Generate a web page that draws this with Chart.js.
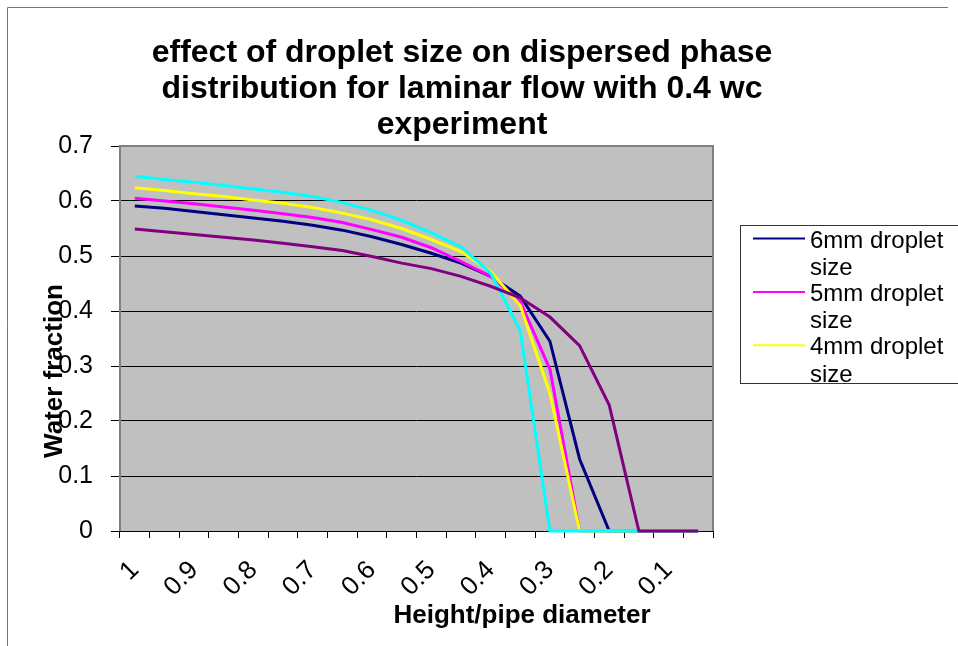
<!DOCTYPE html>
<html>
<head>
<meta charset="utf-8">
<script src="https://cdn.jsdelivr.net/npm/chart.js@4/dist/chart.umd.min.js"></script>
<style>
  html, body { margin: 0; padding: 0; background: #ffffff; }
  #wrap { width: 958px; height: 646px; position: relative; }
</style>
</head>
<body>
<div id="wrap"><canvas id="c" width="958" height="646"></canvas></div>
<script>
// Height / pipe diameter categories (top of pipe to bottom)
const heights = ['1', '0.95', '0.9', '0.85', '0.8', '0.75', '0.7', '0.65', '0.6', '0.55',
                 '0.5', '0.45', '0.4', '0.35', '0.3', '0.25', '0.2', '0.15', '0.1', '0.05'];
// Labels printed under every second category
const xTickLabels = ['1', '0.9', '0.8', '0.7', '0.6', '0.5', '0.4', '0.3', '0.2', '0.1'];
const yTickValues = [0, 0.1, 0.2, 0.3, 0.4, 0.5, 0.6, 0.7];

// Water fraction profiles
const drop6mm = [0.591, 0.587, 0.581, 0.575, 0.569, 0.563, 0.556, 0.547, 0.535, 0.521,
                 0.505, 0.487, 0.463, 0.427, 0.345, 0.131, 0, 0, 0, 0];
const drop5mm = [0.605, 0.600, 0.595, 0.589, 0.583, 0.577, 0.570, 0.561, 0.548, 0.534,
                 0.515, 0.490, 0.463, 0.417, 0.294, 0, 0, 0, 0, 0];
const drop4mm = [0.624, 0.619, 0.613, 0.608, 0.602, 0.596, 0.588, 0.578, 0.566, 0.550,
                 0.530, 0.508, 0.472, 0.410, 0.250, 0, 0, 0, 0, 0];
const drop3mm = [0.645, 0.639, 0.634, 0.628, 0.622, 0.616, 0.608, 0.597, 0.583, 0.565,
                 0.542, 0.517, 0.469, 0.364, 0, 0, 0, 0, 0, 0];
const measured = [0.549, 0.544, 0.539, 0.534, 0.529, 0.523, 0.517, 0.510, 0.499, 0.487,
                  0.477, 0.463, 0.445, 0.424, 0.389, 0.337, 0.229, 0, 0, 0];

const seriesNames = ['6mm droplet size', '5mm droplet size', '4mm droplet size',
                     '3mm droplet size', 'experiment'];
const seriesColors = ['#000080', '#FF00FF', '#FFFF00', '#00FFFF', '#800080'];
const seriesValues = [drop6mm, drop5mm, drop4mm, drop3mm, measured];
const legendCount = 3; // legend box only holds the first three series

const titleLines = ['effect of droplet size on dispersed phase',
                    'distribution for laminar flow with 0.4 wc',
                    'experiment'];
const xTitle = 'Height/pipe diameter';
const yTitle = 'Water fraction';

const FONT = '"Liberation Sans", Arial, Helvetica, sans-serif';

// Plot background, frame, titles and the wrapped legend
const decor = {
  id: 'decor',
  beforeDraw(chart) {
    const { ctx, chartArea: a } = chart;
    ctx.save();
    ctx.fillStyle = '#ffffff';
    ctx.fillRect(0, 0, chart.width, chart.height);
    ctx.fillStyle = '#C0C0C0';
    ctx.fillRect(a.left, a.top, a.right - a.left, a.bottom - a.top);
    ctx.restore();
  },
  beforeDatasetsDraw(chart) {
    const { ctx, chartArea: a } = chart;
    ctx.save();
    ctx.strokeStyle = '#808080';
    ctx.lineWidth = 2;
    ctx.beginPath();
    ctx.moveTo(a.left, a.bottom);
    ctx.lineTo(a.left, a.top);
    ctx.lineTo(a.right, a.top);
    ctx.lineTo(a.right, a.bottom);
    ctx.stroke();
    ctx.strokeStyle = '#000000';
    ctx.lineWidth = 1;
    ctx.beginPath();
    ctx.moveTo(a.left, a.bottom + 0.5);
    ctx.lineTo(a.right, a.bottom + 0.5);
    ctx.stroke();
    ctx.restore();
  },
  afterDraw(chart) {
    const { ctx } = chart;
    ctx.save();
    // outer frame
    ctx.strokeStyle = '#777777';
    ctx.lineWidth = 1;
    ctx.beginPath();
    ctx.moveTo(7.5, chart.height);
    ctx.lineTo(7.5, 7.5);
    ctx.lineTo(948, 7.5);
    ctx.stroke();

    // chart title
    ctx.fillStyle = '#000000';
    ctx.font = 'bold 32px ' + FONT;
    ctx.textAlign = 'center';
    ctx.textBaseline = 'alphabetic';
    titleLines.forEach((t, i) => ctx.fillText(t, 462, 62 + i * 36));

    // axis titles
    ctx.font = 'bold 26px ' + FONT;
    ctx.fillText(xTitle, 522, 623);
    ctx.save();
    ctx.translate(62, 371);
    ctx.rotate(-Math.PI / 2);
    ctx.fillText(yTitle, 0, 0);
    ctx.restore();

    // legend
    ctx.strokeStyle = '#333333';
    ctx.lineWidth = 1;
    ctx.strokeRect(740.5, 225.5, 240, 158);
    ctx.font = '24px ' + FONT;
    ctx.textAlign = 'left';
    chart.data.datasets.slice(0, legendCount).forEach((ds, i) => {
      const base = 247.5 + i * 53.4;
      ctx.strokeStyle = ds.borderColor;
      ctx.lineWidth = 2;
      ctx.beginPath();
      ctx.moveTo(753, base - 9);
      ctx.lineTo(805, base - 9);
      ctx.stroke();
      const words = ds.label.split(' ');
      ctx.fillStyle = '#000000';
      ctx.fillText(words.slice(0, 2).join(' '), 810, base);
      ctx.fillText(words.slice(2).join(' '), 810, base + 27.5);
    });
    ctx.restore();
  }
};

const datasets = seriesValues.map((vals, i) => ({
  label: seriesNames[i],
  data: vals,
  borderColor: seriesColors[i],
  backgroundColor: seriesColors[i],
  borderWidth: 3,
  pointRadius: 0,
  tension: 0,
  fill: false,
  clip: false,
  order: seriesValues.length - i
}));

new Chart(document.getElementById('c'), {
  type: 'line',
  data: { labels: heights, datasets },
  options: {
    responsive: false,
    animation: false,
    devicePixelRatio: 1,
    layout: { padding: { left: 0, top: 146, right: 245, bottom: 0 } },
    plugins: {
      legend: { display: false },
      title: { display: false },
      tooltip: { enabled: false }
    },
    scales: {
      x: {
        type: 'category',
        offset: true,
        border: { display: false },
        grid: {
          offset: true,
          drawOnChartArea: false,
          drawTicks: true,
          tickLength: 7,
          tickColor: '#000000',
          tickWidth: 1
        },
        ticks: {
          autoSkip: false,
          maxRotation: 45,
          minRotation: 45,
          padding: 17,
          color: '#000000',
          font: { family: FONT, size: 26 },
          callback: (v, i) => (i % 2 === 0 ? xTickLabels[i / 2] : '')
        },
        afterFit: (s) => { s.height = 115; }
      },
      y: {
        min: 0,
        max: 0.7,
        border: { display: false },
        afterBuildTicks: (s) => { s.ticks = yTickValues.map(v => ({ value: v })); },
        grid: {
          color: '#000000',
          lineWidth: 1,
          drawTicks: true,
          tickLength: 9,
          tickColor: '#000000'
        },
        ticks: {
          padding: 18,
          color: '#000000',
          font: { family: FONT, size: 25 },
          callback: (v) => String(Math.round(v * 10) / 10)
        },
        afterFit: (s) => { s.width = 120; }
      }
    }
  },
  plugins: [decor]
});
</script>
</body>
</html>
